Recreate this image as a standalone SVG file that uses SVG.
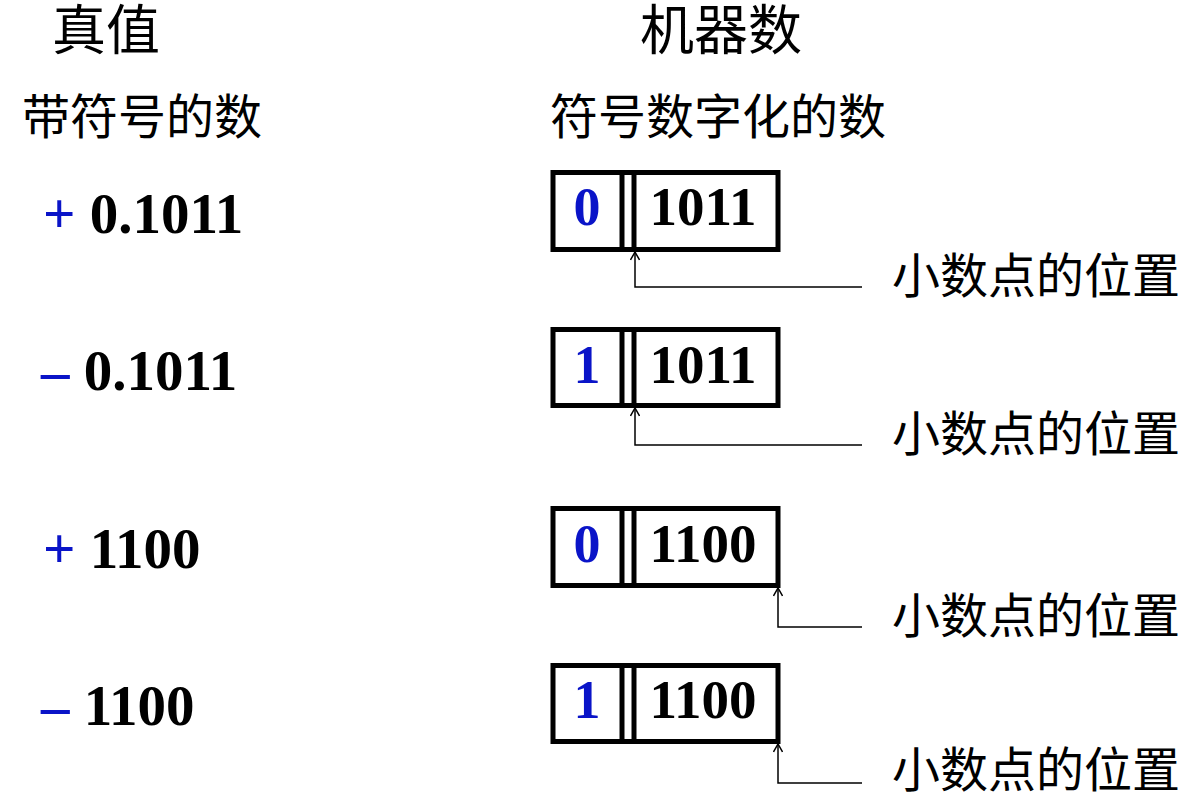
<svg xmlns="http://www.w3.org/2000/svg" width="1202" height="798" viewBox="0 0 1202 798">
<style>
.cjk{font-family:"Noto Sans CJK SC","Noto Sans",sans-serif;fill:#000}
.num{font-family:"Liberation Serif",serif;font-weight:bold;fill:#000}
.blue{fill:#0a14c8}
.box{fill:none;stroke:#000;stroke-width:5}
.bar{stroke:#000;stroke-width:5}
.con{fill:none;stroke:#000;stroke-width:1.5}
</style>
<defs>
<marker id="ah" viewBox="0 0 10 10" refX="9" refY="5" markerWidth="10" markerHeight="10" markerUnits="userSpaceOnUse" orient="auto">
<path d="M1,0.5 L9,5 L1,9.5" fill="none" stroke="#000" stroke-width="1.5"/>
</marker>
</defs>
<rect width="1202" height="798" fill="#fff"/>
<g id="headers">
<text class="cjk" x="52" y="50" font-size="54">真值</text>
<text class="cjk" x="640" y="50" font-size="54">机器数</text>
<text class="cjk" x="22" y="134" font-size="48">带符号的数</text>
<text class="cjk" x="550" y="134" font-size="48">符号数字化的数</text>
</g>
<g id="true-values">
<text class="num" x="43" y="233" font-size="57"><tspan class="blue">+</tspan> 0.1011</text>
<text class="num" x="41" y="390" font-size="57"><tspan class="blue">–</tspan> 0.1011</text>
<text class="num" x="43" y="568" font-size="57"><tspan class="blue">+</tspan> 1100</text>
<text class="num" x="41" y="725" font-size="57"><tspan class="blue">–</tspan> 1100</text>
</g>
<g id="box1">
<rect class="box" x="553" y="172.5" width="225" height="77"/>
<line class="bar" x1="622" y1="172" x2="622" y2="250"/>
<line class="bar" x1="634" y1="172" x2="634" y2="250"/>
<text class="num blue" x="587" y="225" font-size="54" text-anchor="middle">0</text>
<text class="num" x="703" y="225" font-size="55" text-anchor="middle">1011</text>
</g>
<g id="box2">
<rect class="box" x="553" y="329.5" width="225" height="76"/>
<line class="bar" x1="622" y1="329" x2="622" y2="406"/>
<line class="bar" x1="634" y1="329" x2="634" y2="406"/>
<text class="num blue" x="587" y="383" font-size="54" text-anchor="middle">1</text>
<text class="num" x="703" y="383" font-size="55" text-anchor="middle">1011</text>
</g>
<g id="box3">
<rect class="box" x="553" y="508.5" width="225" height="77"/>
<line class="bar" x1="622" y1="508" x2="622" y2="586"/>
<line class="bar" x1="634" y1="508" x2="634" y2="586"/>
<text class="num blue" x="587" y="562" font-size="54" text-anchor="middle">0</text>
<text class="num" x="703" y="562" font-size="55" text-anchor="middle">1100</text>
</g>
<g id="box4">
<rect class="box" x="553" y="665.5" width="225" height="76"/>
<line class="bar" x1="622" y1="665" x2="622" y2="742"/>
<line class="bar" x1="634" y1="665" x2="634" y2="742"/>
<text class="num blue" x="587" y="718" font-size="54" text-anchor="middle">1</text>
<text class="num" x="703" y="718" font-size="55" text-anchor="middle">1100</text>
</g>
<g id="labels">
<text class="cjk" x="892" y="293" font-size="48">小数点的位置</text>
<text class="cjk" x="892" y="451" font-size="48">小数点的位置</text>
<text class="cjk" x="892" y="633" font-size="48">小数点的位置</text>
<text class="cjk" x="892" y="787" font-size="48">小数点的位置</text>
</g>
<g id="connectors">
<path class="con" d="M862,287 H635 V252" marker-end="url(#ah)"/>
<path class="con" d="M862,445 H635 V408" marker-end="url(#ah)"/>
<path class="con" d="M862,627 H778 V588" marker-end="url(#ah)"/>
<path class="con" d="M862,783 H778 V744" marker-end="url(#ah)"/>
</g>
</svg>
